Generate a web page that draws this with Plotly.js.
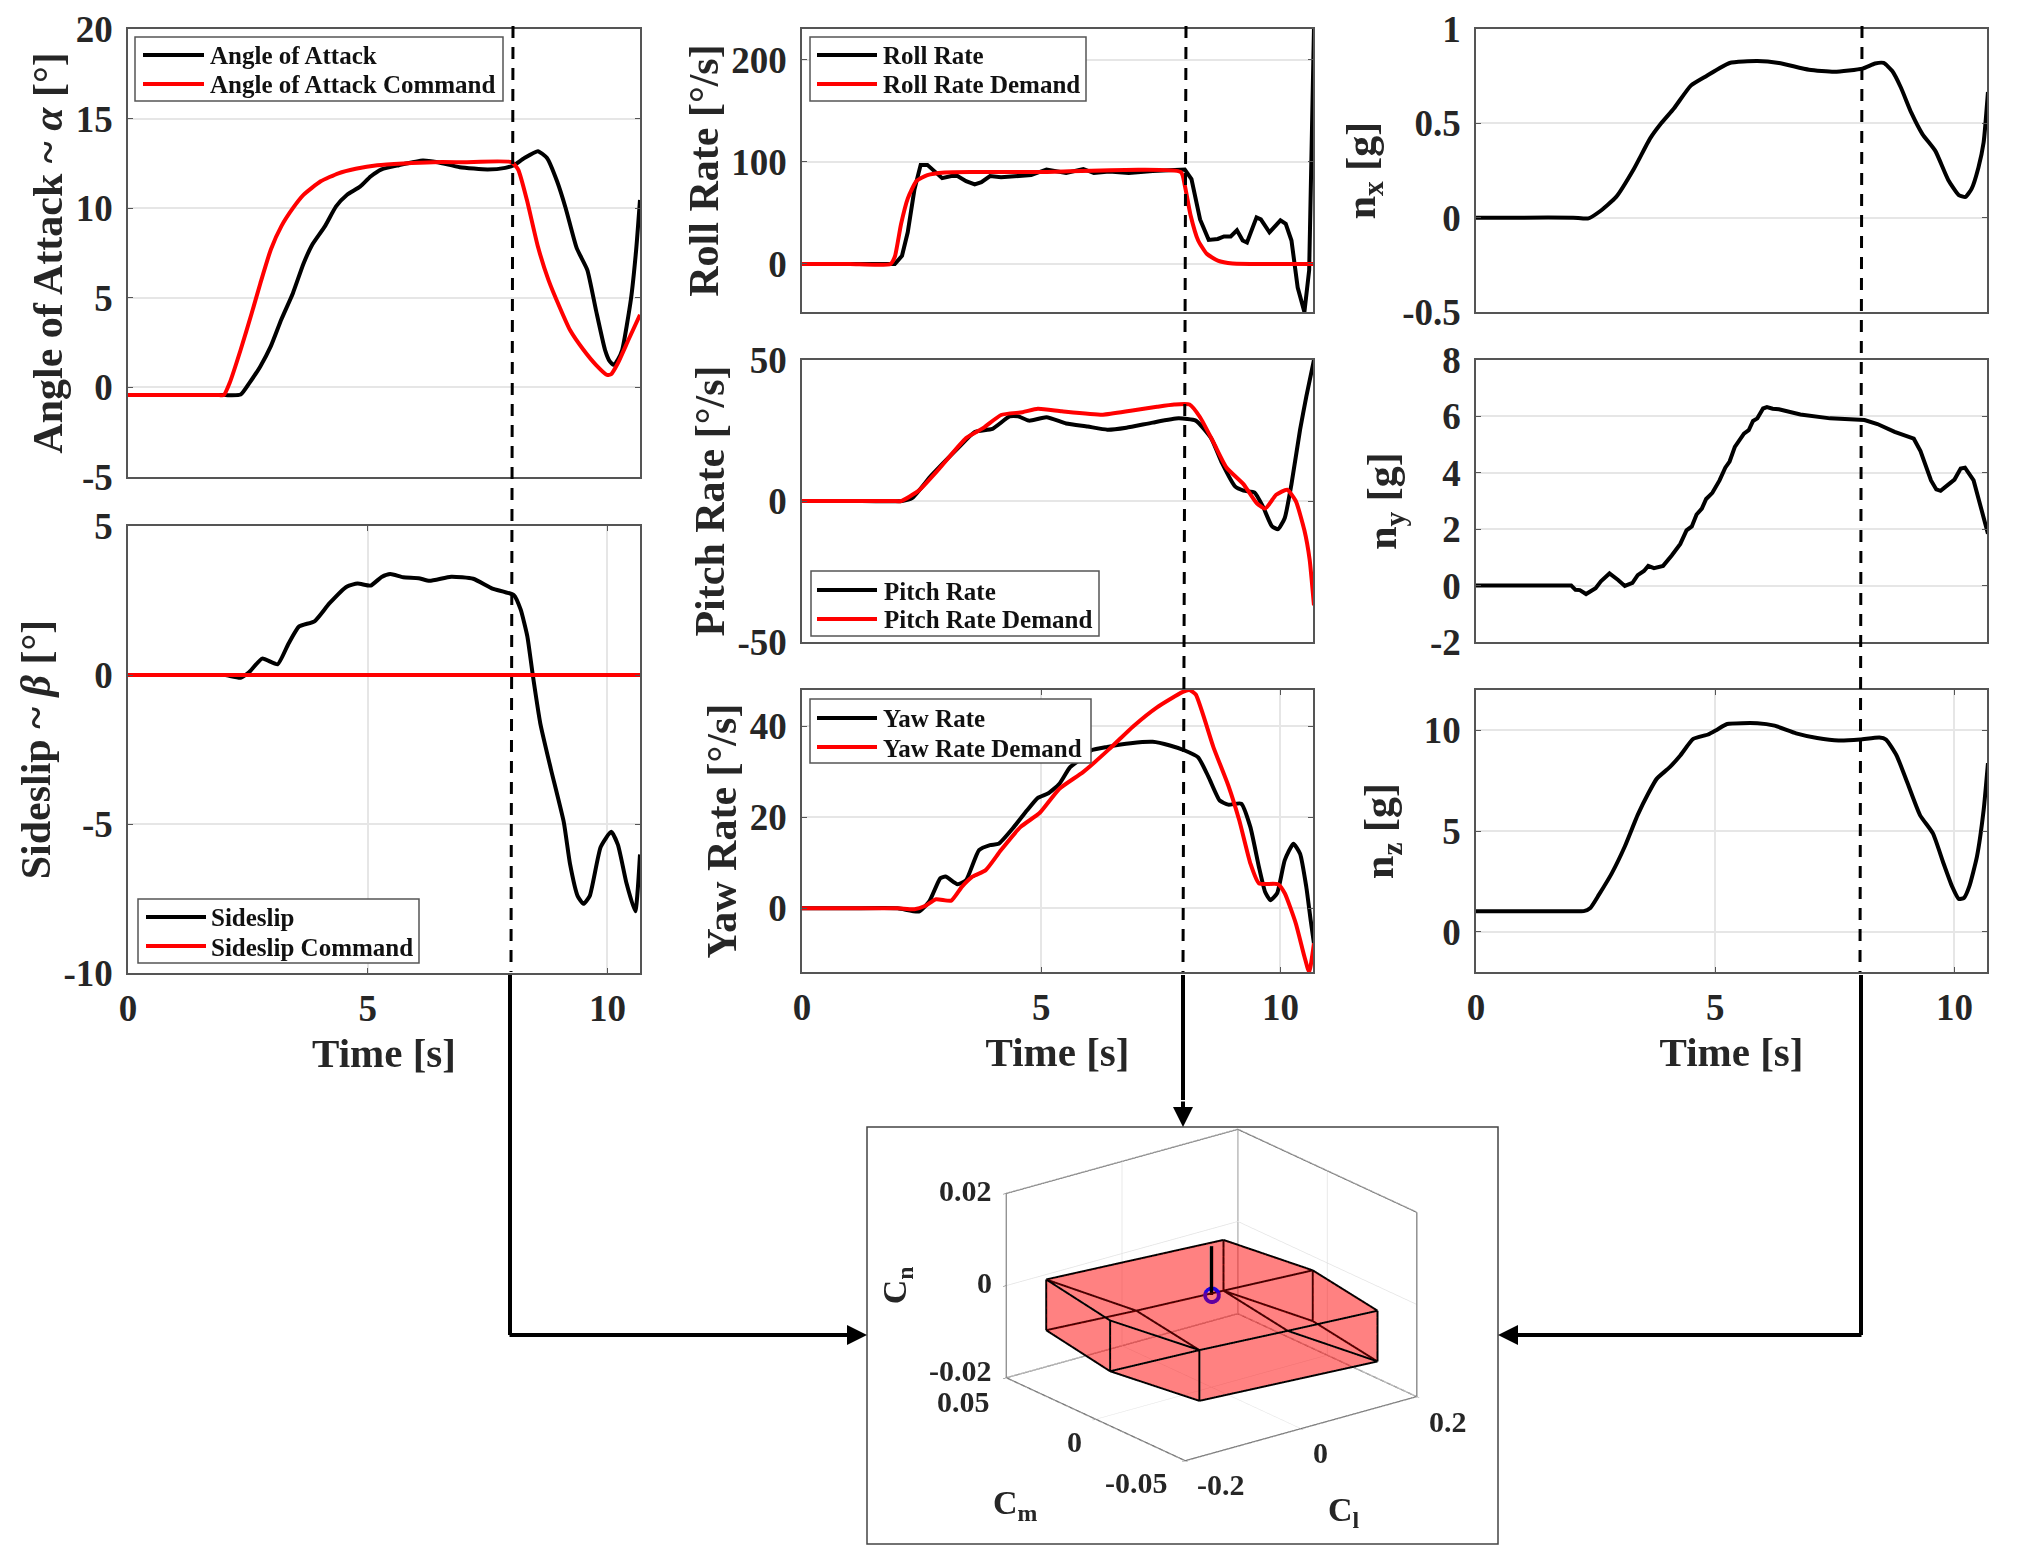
<!DOCTYPE html>
<html>
<head>
<meta charset="utf-8">
<script src="https://cdn.plot.ly/plotly-3.0.1.min.js"></script>
<style>html,body{margin:0;padding:0;background:#fff}</style>
</head>
<body>
<div id="chart" style="width:2022px;height:1561px"></div>
<script>
// angle of attack
var aoaT = [0,1,1.9,2.03,2.35,2.53,2.76,2.98,3.2,3.44,3.66,3.84,4.11,4.34,4.57,4.84,5.06,5.29,5.65,6.15,6.46,6.92,7.5,7.87,8.05,8.27,8.55,8.74,8.95,9.13,9.36,9.58,9.76,9.95,10.05,10.13,10.22,10.31,10.49,10.6,10.68];
var aoa = [-0.43,-0.43,-0.43,-0.43,-0.4,0.24,1.17,2.3,3.8,5.26,6.9,7.95,9,10.1,10.75,11.2,11.77,12.17,12.4,12.66,12.56,12.29,12.16,12.25,12.4,12.8,13.18,12.8,11.5,10,7.77,6.56,4.33,2.1,1.45,1.26,1.55,2.1,4.9,7.68,10.46];
var aoaCmdT = [0,1,1.9,2,2.12,2.35,2.58,2.76,2.98,3.2,3.44,3.66,4.02,4.39,4.75,5.2,5.74,6.37,7,8,8.14,8.32,8.55,8.77,9,9.22,9.5,9.76,9.99,10.08,10.22,10.44,10.68];
var aoaCmd = [-0.43,-0.43,-0.43,-0.43,0.24,2.1,4.14,5.8,7.7,9,10,10.74,11.5,11.95,12.2,12.4,12.5,12.57,12.57,12.57,12.15,10.47,7.86,6,4.5,3.2,2.1,1.26,0.7,0.74,1.36,2.66,4.05];
// sideslip
var betaT = [0,1,1.9,2.03,2.35,2.53,2.8,3.12,3.35,3.57,3.89,4.2,4.57,4.79,5.06,5.29,5.47,5.74,6.06,6.29,6.74,7.2,7.6,8.05,8.19,8.33,8.44,8.6,8.82,9.09,9.22,9.38,9.5,9.63,9.86,10.08,10.22,10.4,10.58,10.68];
var beta = [0,0,0,0,-0.09,0.1,0.55,0.36,1.06,1.63,1.8,2.4,2.97,3.07,3,3.29,3.39,3.28,3.25,3.16,3.3,3.23,2.9,2.68,2.2,1.3,0.04,-1.62,-3.15,-4.94,-6.34,-7.42,-7.68,-7.42,-5.77,-5.26,-5.7,-7,-7.93,-6.02];
var betaCmdT = [0,10.68];
var betaCmd = [0,0];
// roll rate
var rollT = [0,1.94,2.09,2.21,2.35,2.48,2.62,2.8,2.93,3.12,3.25,3.43,3.61,3.75,3.93,4.16,4.43,4.79,5.11,5.52,5.88,6.1,6.42,6.83,7.33,8,8.14,8.32,8.5,8.69,8.82,8.96,9.09,9.21,9.3,9.5,9.59,9.77,10,10.11,10.23,10.36,10.5,10.6,10.66,10.7];
var roll = [0,0,8,31,73,97,97,89,84,86,86,81,78,80,86,85,86,87,92.5,89,93,89,90.5,89,91,92.5,83,43.6,23.6,24.5,27,27,33,23,21,45.6,43.6,31,42.7,39.4,23,-23,-47,-6,135,230];
var rollCmdT = [0,1,1.85,1.94,2.07,2.21,2.39,2.62,2.98,3.61,5,7.92,8,8.12,8.28,8.46,8.69,9,10,10.68];
var rollCmd = [0,0,0,7,39,64,81,87,89.6,90,90,90,77,48,23,10,3.3,0.5,0,0];
// pitch rate
var pitchT = [0,1,2.09,2.3,2.7,3.25,3.61,3.98,4.34,4.52,4.75,5.11,5.52,5.97,6.38,6.78,7.33,7.87,8.23,8.55,8.78,9.05,9.23,9.46,9.64,9.82,9.95,10.09,10.23,10.41,10.54,10.7];
var pitch = [0,0,0,1,9,18.6,24.5,25.6,30,30,28.5,29.7,27.5,26.4,25.3,26,27.8,29.3,28.5,22.3,13.4,5.2,3.7,3,-2.2,-8.9,-10,-6,6,25.3,37,50];
var pitchCmdT = [0,1,1.9,2.07,2.44,2.89,3.43,3.8,4.16,4.61,4.93,5.43,6.29,6.87,7.42,7.78,8.1,8.32,8.6,8.87,9.23,9.5,9.68,9.91,10.14,10.32,10.5,10.61,10.7];
var pitchCmd = [0,0,0,0,3.7,11.9,22.3,26,30.5,31.5,32.7,31.8,30.6,32,33.4,34.2,34.2,29.7,20.8,11.9,5.9,-0.7,-2.7,2.2,4,0,-10.4,-20.8,-37];
// yaw rate
var yawT = [0,1,2,2.44,2.66,2.89,3,3.25,3.43,3.7,3.93,4.11,4.43,4.7,4.93,5.15,5.38,5.6,5.83,6.06,6.38,6.87,7.33,7.69,8,8.28,8.5,8.73,8.91,9.18,9.37,9.55,9.68,9.79,9.93,10.09,10.27,10.41,10.54,10.63,10.7];
var yaw = [0,0,0,-0.7,1.5,6.6,7,5.3,6.2,12.8,13.9,14.2,17.9,21.5,24.3,25.3,27.4,31,32.8,34.8,35.5,36.3,36.6,35.8,34.7,33.2,28.8,23.7,22.8,23,17.9,9.1,3.6,1.8,3.3,10.6,14.2,12,4.7,-2.5,-7.7];
var yawCmdT = [0,1,2,2.35,2.57,2.8,3.12,3.34,3.57,3.84,4.16,4.57,4.97,5.38,5.88,6.42,6.92,7.42,7.96,8.1,8.23,8.6,8.91,9.14,9.37,9.55,9.95,10.09,10.32,10.5,10.6,10.7];
var yawCmd = [0,0,0,-0.2,0.5,2,1.7,4.7,7,8.4,12.8,17.9,21,26.3,30,35,40,44.2,47.6,48,47,35.4,27,19.3,9.9,5.5,5.3,3.3,-3.3,-10.6,-14,-7.7];
// load factors
var nxT = [0,1,2.03,2.35,2.57,2.93,3.29,3.64,3.87,4.14,4.49,4.81,5.3,5.88,6.33,6.96,7.49,8.08,8.34,8.52,8.7,8.88,9.1,9.33,9.6,9.87,10.09,10.23,10.36,10.5,10.61,10.7];
var nx = [0,0,0,-0.004,0.03,0.11,0.254,0.42,0.5,0.58,0.7,0.75,0.82,0.83,0.82,0.784,0.773,0.79,0.817,0.82,0.777,0.69,0.555,0.443,0.354,0.2,0.12,0.11,0.154,0.265,0.4,0.666];
var nyT = [0,1.99,2.08,2.17,2.3,2.5,2.61,2.79,2.97,3.11,3.27,3.38,3.51,3.6,3.72,3.91,4.09,4.27,4.4,4.51,4.61,4.72,4.81,4.94,5.09,5.21,5.3,5.41,5.6,5.7,5.79,5.88,6,6.08,6.2,6.33,6.78,7.4,8.12,8.39,8.75,9.15,9.29,9.51,9.62,9.71,9.87,10,10.13,10.22,10.4,10.54,10.63,10.7];
var ny = [0,0,-0.15,-0.16,-0.3,-0.09,0.15,0.43,0.2,-0.01,0.1,0.37,0.52,0.7,0.62,0.7,1.07,1.48,1.96,2.1,2.52,2.73,3.07,3.29,3.73,4.18,4.4,4.92,5.39,5.51,5.84,5.93,6.28,6.33,6.27,6.25,6.07,5.93,5.87,5.73,5.45,5.21,4.77,3.73,3.41,3.36,3.58,3.76,4.15,4.18,3.73,2.84,2.25,1.84];
var nzT = [0,1,2.1,2.25,2.39,2.57,2.84,3.11,3.38,3.6,3.78,4.05,4.27,4.54,4.85,5.03,5.25,5.88,6.24,6.69,7.13,7.58,8.03,8.43,8.57,8.79,9.01,9.28,9.55,9.77,9.95,10.09,10.2,10.31,10.47,10.61,10.7];
var nz = [1.02,1.02,1.02,1.02,1.18,1.84,2.91,4.23,5.8,6.86,7.6,8.17,8.75,9.57,9.79,10.02,10.31,10.35,10.23,9.85,9.62,9.49,9.54,9.64,9.54,8.75,7.43,5.79,4.88,3.4,2.25,1.63,1.68,2.25,3.73,6.04,8.37];
// moment coefficient polytope
var polyCl = [-0.148,0.136,0.1616,0.1375,-0.147,-0.1745,-0.148,0.136,0.1616,0.1375,-0.147,-0.1745,-0.005,-0.0065];
var polyCm = [0.0445,0.0373,-0.0043,-0.0483,-0.0408,0.0002,0.0445,0.0373,-0.0043,-0.0483,-0.0408,0.0002,0.0404,-0.0447];
var polyCn = [0.0005,0.0005,0.0005,0.0005,0.0005,0.0005,-0.0105,-0.0105,-0.0105,-0.0105,-0.0105,-0.0105,-0.0105,0.0005];
var polyEdges = [[0,1],[1,2],[2,3],[3,13],[13,4],[0,5],[5,4],[0,12],[12,4],[0,6],[5,11],[4,10],[3,9],[2,8],[1,7],[6,11],[11,10],[10,9],[9,8],[8,7],[6,12],[12,7],[7,2],[7,13],[13,9],[11,4]];
var momentCl = [0,0];
var momentCm = [0,0];
var momentCn = [0.0106,0];
var clTicks = [-0.2,0,0.2];
var cmTicks = [-0.05,0,0.05];
var cnTicks = [-0.02,0,0.02];

var W = 2022, H = 1561;
function px(x) { return x / W; }
function py(y) { return 1 - y / H; }

var FONT = "Liberation Serif";
var INK = "#262626";
var RANGE_T = [0, 10.68];

var columns = [[128, 640], [802, 1313], [1476, 1987]];
var traces = [];
var shapes = [];
var annotations = [];
var layout = {
  width: W, height: H,
  margin: { l: 0, r: 0, t: 0, b: 0 },
  paper_bgcolor: "#fff", plot_bgcolor: "#fff",
  font: { family: FONT, color: INK },
  showlegend: false
};

function addLegend(box, rowY, sample, textX, series) {
  shapes.push({
    type: "rect", xref: "paper", yref: "paper", layer: "above",
    x0: px(box[0]), x1: px(box[2]), y0: py(box[3]), y1: py(box[1]),
    fillcolor: "#fff", line: { color: "#555", width: 1.5 }
  });
  series.forEach(function (s, i) {
    shapes.push({
      type: "line", xref: "paper", yref: "paper", layer: "above",
      x0: px(sample[0]), x1: px(sample[1]), y0: py(rowY[i]), y1: py(rowY[i]),
      line: { color: s.color, width: 4 }
    });
    annotations.push({
      xref: "paper", yref: "paper", x: px(textX), y: py(rowY[i] + 1), xanchor: "left", yanchor: "middle",
      text: s.name, showarrow: false,
      font: { family: FONT, size: 25, color: "#111", weight: "bold" }
    });
  });
}

var axisNo = 0;
function addPanel(col, top, bottom, range, ticks, title, standoff, showX, series) {
  axisNo++;
  var id = axisNo == 1 ? "" : String(axisNo);
  var c = columns[col];
  var common = {
    showline: true, mirror: "ticks", linecolor: "#555", linewidth: 1.5,
    ticks: "inside", ticklen: 5, tickwidth: 1, tickcolor: "#555",
    gridcolor: "#e6e6e6", gridwidth: 1.5, zeroline: false, fixedrange: true,
    tickfont: { family: FONT, size: 37, color: INK, weight: "bold" }
  };
  layout["xaxis" + id] = Object.assign({}, common, {
    domain: [px(c[0]), px(c[1])],
    anchor: "y" + id,
    range: RANGE_T,
    tickvals: showX ? [0, 5, 10] : [],
    showgrid: showX,
    ticklabelstandoff: 2,
    title: showX ? { text: "Time [s]", font: { family: FONT, size: 41, color: INK, weight: "bold" }, standoff: 10 } : undefined
  });
  layout["yaxis" + id] = Object.assign({}, common, {
    domain: [py(bottom), py(top)],
    anchor: "x" + id,
    range: range,
    tickvals: ticks,
    ticktext: ticks.map(String),
    ticklabelstandoff: 6,
    title: { text: title, font: { family: FONT, size: 42, color: INK, weight: "bold" }, standoff: standoff }
  });
  series.forEach(function (s) {
    traces.push({
      x: s.x, y: s.y, name: s.name, type: "scatter", mode: "lines",
      xaxis: "x" + id, yaxis: "y" + id,
      cliponaxis: false,
      line: { color: s.color, width: 4, shape: s.shape || "spline", smoothing: 0.5 }
    });
  });
}

var aoaSeries = [{ x: aoaT, y: aoa, name: "Angle of Attack", color: "#000" },
  { x: aoaCmdT, y: aoaCmd, name: "Angle of Attack Command", color: "#f00" }];
var betaSeries = [{ x: betaT, y: beta, name: "Sideslip", color: "#000" },
  { x: betaCmdT, y: betaCmd, name: "Sideslip Command", color: "#f00", shape: "linear" }];
var rollSeries = [{ x: rollT, y: roll, name: "Roll Rate", color: "#000", shape: "linear" },
  { x: rollCmdT, y: rollCmd, name: "Roll Rate Demand", color: "#f00" }];
var pitchSeries = [{ x: pitchT, y: pitch, name: "Pitch Rate", color: "#000" },
  { x: pitchCmdT, y: pitchCmd, name: "Pitch Rate Demand", color: "#f00" }];
var yawSeries = [{ x: yawT, y: yaw, name: "Yaw Rate", color: "#000" },
  { x: yawCmdT, y: yawCmd, name: "Yaw Rate Demand", color: "#f00" }];

addPanel(0, 29, 477, [-5, 20], [-5, 0, 5, 10, 15, 20], "Angle of Attack ~ <i>α</i> [°]", 0, false, aoaSeries);
addPanel(0, 526, 973, [-10, 5], [-10, -5, 0, 5], "Sideslip ~ <i>β</i> [°]", 0, true, betaSeries);
addPanel(1, 29, 312, [-47, 230], [0, 100, 200], "Roll Rate [°/s]", 0, false, rollSeries);
addPanel(1, 360, 642, [-50, 50], [-50, 0, 50], "Pitch Rate [°/s]", 0, false, pitchSeries);
addPanel(1, 690, 972, [-14, 48], [0, 20, 40], "Yaw Rate [°/s]", 0, true, yawSeries);
addPanel(2, 29, 312, [-0.5, 1], [-0.5, 0, 0.5, 1], "n<sub>x</sub> [g]", 14, false, [{ x: nxT, y: nx, color: "#000" }]);
addPanel(2, 360, 642, [-2, 8], [-2, 0, 2, 4, 6, 8], "n<sub>y</sub> [g]", 20, false, [{ x: nyT, y: ny, color: "#000", shape: "linear" }]);
addPanel(2, 690, 972, [-2, 12], [0, 5, 10], "n<sub>z</sub> [g]", 17, true, [{ x: nzT, y: nz, color: "#000" }]);

addLegend([135, 37, 503, 101], [55, 84], [143, 204], 208, aoaSeries);
addLegend([138, 899, 419, 963], [917, 946], [146, 206], 209, betaSeries);
addLegend([810, 37, 1086, 101], [55, 84], [817, 877], 881, rollSeries);
addLegend([811, 571, 1099, 636], [590, 619], [817, 877], 882, pitchSeries);
addLegend([810, 699, 1091, 763], [718, 747], [817, 877], 881, yawSeries);

// dashed time markers and the arrows down to the moment panel
function vline(x0, y0, x1, y1, width, dash) {
  shapes.push({
    type: "line", xref: "paper", yref: "paper", layer: "above",
    x0: px(x0), y0: py(y0), x1: px(x1), y1: py(y1),
    line: { color: "#000", width: width, dash: dash || "solid" }
  });
}
function arrow(x0, y0, x1, y1) {
  annotations.push({
    xref: "paper", yref: "paper", axref: "pixel", ayref: "pixel",
    x: px(x1), y: py(y1), ax: x0 - x1, ay: y0 - y1,
    text: "", showarrow: true, arrowhead: 2, arrowsize: 1, arrowwidth: 4, arrowcolor: "#000", standoff: 0
  });
}
vline(513, 26, 511, 972, 3, "12px,9px");
vline(1186, 26, 1183, 972, 3, "12px,9px");
vline(1862, 26, 1860, 972, 3, "12px,9px");
vline(510, 975, 510, 1335, 4);
vline(1861, 975, 1861, 1335, 4);
vline(1183, 975, 1183, 1100, 4);
arrow(1183, 1100, 1183, 1127);
arrow(508, 1335, 867, 1335);
arrow(1863, 1335, 1498, 1335);

// moment panel frame
shapes.push({
  type: "rect", xref: "paper", yref: "paper", layer: "below",
  x0: px(867), x1: px(1498), y0: py(1127), y1: py(1544),
  line: { color: "#444", width: 1.5 }, fillcolor: "#fff"
});

var edgeX = [], edgeY = [], edgeZ = [];
polyEdges.forEach(function (e) {
  edgeX.push(polyCl[e[0]], polyCl[e[1]], null);
  edgeY.push(polyCm[e[0]], polyCm[e[1]], null);
  edgeZ.push(polyCn[e[0]], polyCn[e[1]], null);
});
traces.push({
  type: "mesh3d", scene: "scene", x: polyCl, y: polyCm, z: polyCn,
  alphahull: 0, color: "#ff0000", opacity: 0.29, flatshading: true, showscale: false,
  lighting: { ambient: 1, diffuse: 0, specular: 0, roughness: 1, fresnel: 0 }, hoverinfo: "skip"
});
traces.push({
  type: "scatter3d", scene: "scene", mode: "lines", x: edgeX, y: edgeY, z: edgeZ,
  line: { color: "#000", width: 4 }, hoverinfo: "skip"
});
traces.push({
  type: "scatter3d", scene: "scene", mode: "lines", x: momentCl, y: momentCm, z: momentCn,
  line: { color: "#000", width: 7 }, hoverinfo: "skip"
});
// open ring, stacked a few times so it reads thick like the original
[7, 8, 9, 10].forEach(function (size) {
  traces.push({
    type: "scatter3d", scene: "scene", mode: "markers", x: [0], y: [0], z: [0],
    marker: { color: "#2000e0", size: size, symbol: "circle-open" }, hoverinfo: "skip"
  });
});

// back walls and floor of the box, from the axis limits
var clLo = clTicks[0], clHi = clTicks[2], cmLo = cmTicks[0], cmHi = cmTicks[2], cnLo = cnTicks[0], cnHi = cnTicks[2];
traces.push({
  type: "scatter3d", scene: "scene", mode: "lines", hoverinfo: "skip",
  line: { color: "#606060", width: 2.5 },
  x: [clLo, clHi, clHi, null, clLo, clLo, null, clHi, clHi, null, clHi, clHi, null, clLo, clLo, clHi, null, clLo, clHi, clHi],
  y: [cmHi, cmHi, cmLo, null, cmHi, cmHi, null, cmHi, cmHi, null, cmLo, cmLo, null, cmHi, cmLo, cmLo, null, cmHi, cmHi, cmLo],
  z: [cnHi, cnHi, cnHi, null, cnLo, cnHi, null, cnLo, cnHi, null, cnLo, cnHi, null, cnLo, cnLo, cnLo, null, cnLo, cnLo, cnLo]
});

function sceneAxis(ticks) {
  return {
    range: [ticks[0], ticks[2]], tickvals: ticks,
    title: { text: "" }, showbackground: false, showspikes: false,
    showline: false, showticklabels: false,
    gridcolor: "#e2e2e2", gridwidth: 1.5, zeroline: false,
    ticks: "outside", ticklen: 4, tickcolor: "#555"
  };
}
var sceneNotes = [];
function sceneNote(text, x, y, z, dx, dy, size, angle) {
  sceneNotes.push({
    x: x, y: y, z: z, text: text, showarrow: false, xshift: dx, yshift: dy, textangle: angle || 0,
    font: { family: FONT, size: size, color: INK, weight: "bold" }
  });
}
sceneNote("0.02", clLo, cmHi, cnTicks[2], -40, 3, 30);
sceneNote("0", clLo, cmHi, cnTicks[1], -21, 3, 30);
sceneNote("-0.02", clLo, cmHi, cnTicks[0], -45, 7, 30);
sceneNote("0.05", clLo, cmTicks[2], cnLo, -42, -24, 30);
sceneNote("0", clLo, cmTicks[1], cnLo, -21, -22, 30);
sceneNote("-0.05", clLo, cmTicks[0], cnLo, -48, -22, 30);
sceneNote("-0.2", clTicks[0], cmLo, cnLo, 36, -24, 30);
sceneNote("0", clTicks[1], cmLo, cnLo, 20, -24, 30);
sceneNote("0.2", clTicks[2], cmLo, cnLo, 32, -25, 30);
sceneNote("C<sub>m</sub>", clLo, cmTicks[1], cnLo, -80, -86, 34);
sceneNote("C<sub>l</sub>", clTicks[1], cmLo, cnLo, 44, -83, 34);
sceneNote("C<sub>n</sub>", clLo, cmHi, cnTicks[1], -109, 0, 34, -90);

layout.scene = {
  domain: { x: [px(893.5), px(1528.5)], y: [py(1504), py(1086)] },
  camera: { projection: { type: "orthographic" }, eye: { x: -0.779, y: -1.008, z: 0.489 }, up: { x: 0, y: 0, z: 1 }, center: { x: 0, y: 0, z: 0 } },
  aspectmode: "manual", aspectratio: { x: 1.4, y: 1.4, z: 0.945 },
  xaxis: sceneAxis(clTicks),
  yaxis: sceneAxis(cmTicks),
  zaxis: sceneAxis(cnTicks),
  annotations: sceneNotes
};

layout.shapes = shapes;
layout.annotations = annotations;

Plotly.newPlot("chart", traces, layout, { displayModeBar: false });
</script>
</body>
</html>
